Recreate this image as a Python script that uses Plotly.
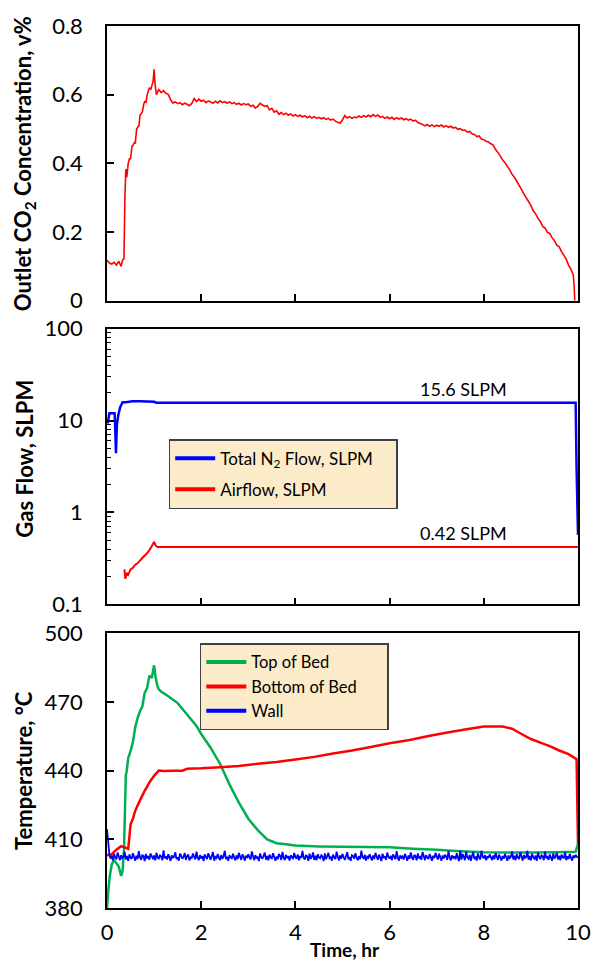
import numpy as np
import plotly.graph_objects as go

# ---- Outlet CO2 concentration (v%) ----
# start-up transient, irregular logging times
co2_time_start = [0.00, 0.05, 0.10, 0.15, 0.20, 0.25, 0.30, 0.33, 0.36, 0.38,
                  0.40, 0.42, 0.45, 0.48, 0.50, 0.53, 0.55, 0.58, 0.60, 0.63,
                  0.65, 0.68, 0.70, 0.73, 0.75, 0.78, 0.80, 0.83, 0.85, 0.88,
                  0.90, 0.93, 0.95, 0.98, 1.00, 1.02, 1.05]
co2_conc_start = [0.118, 0.110, 0.107, 0.112, 0.104, 0.115, 0.100, 0.118, 0.122, 0.300,
                  0.383, 0.360, 0.400, 0.415, 0.412, 0.450, 0.452, 0.460, 0.458, 0.500,
                  0.505, 0.510, 0.540, 0.545, 0.550, 0.572, 0.580, 0.578, 0.598, 0.612,
                  0.620, 0.615, 0.625, 0.640, 0.674, 0.630, 0.600]
# steady logging every 0.05 hr from 1.10 to 9.90 hr
co2_conc_run = [
    0.615, 0.606, 0.612, 0.604, 0.601, 0.585, 0.576, 0.579, 0.574, 0.577,
    0.571, 0.575, 0.572, 0.568, 0.574, 0.589, 0.580, 0.587, 0.581, 0.584,
    0.577, 0.582, 0.579, 0.575, 0.581, 0.576, 0.582, 0.577, 0.580, 0.575,
    0.579, 0.574, 0.577, 0.572, 0.575, 0.570, 0.574, 0.571, 0.573, 0.566,
    0.569, 0.561, 0.566, 0.575, 0.570, 0.566, 0.568, 0.556, 0.560, 0.549,
    0.553, 0.543, 0.548, 0.542, 0.546, 0.540, 0.544, 0.538, 0.542, 0.537,
    0.540, 0.535, 0.539, 0.533, 0.537, 0.532, 0.536, 0.531, 0.534, 0.530,
    0.533, 0.528, 0.531, 0.526, 0.529, 0.523, 0.520, 0.517, 0.527, 0.539,
    0.532, 0.536, 0.531, 0.535, 0.533, 0.538, 0.534, 0.539, 0.535, 0.540,
    0.536, 0.542, 0.537, 0.541, 0.534, 0.537, 0.531, 0.535, 0.530, 0.534,
    0.528, 0.533, 0.529, 0.532, 0.527, 0.530, 0.526, 0.529, 0.523, 0.526,
    0.519, 0.516, 0.513, 0.509, 0.513, 0.508, 0.512, 0.507, 0.511, 0.508,
    0.512, 0.506, 0.510, 0.505, 0.508, 0.503, 0.505, 0.499, 0.501, 0.496,
    0.497, 0.491, 0.493, 0.486, 0.484, 0.478, 0.480, 0.471, 0.469, 0.464,
    0.462, 0.457, 0.453, 0.440, 0.432, 0.421, 0.410, 0.402, 0.391, 0.381,
    0.368, 0.360, 0.348, 0.336, 0.324, 0.311, 0.300, 0.289, 0.277, 0.262,
    0.253, 0.240, 0.231, 0.216, 0.212, 0.199, 0.196, 0.183, 0.175, 0.162,
    0.157, 0.143, 0.132, 0.121, 0.104, 0.092, 0.075]
co2_time_run = list(np.round(1.10 + 0.05 * np.arange(len(co2_conc_run)), 2))
# analyser shut-off
co2_time_end = [9.92, 9.93]
co2_conc_end = [0.040, 0.000]

co2_time = co2_time_start + co2_time_run + co2_time_end
co2_conc = co2_conc_start + co2_conc_run + co2_conc_end

# ---- Gas flows (SLPM) ----
n2_time = [0.00, 0.02, 0.05, 0.08, 0.12, 0.16, 0.17, 0.19, 0.21, 0.24,
           0.28, 0.33, 0.40, 0.54, 0.70, 1.00, 1.05, 2.00, 3.00, 4.00,
           5.00, 6.00, 7.00, 8.00, 9.00, 9.95, 9.97, 10.00]
n2_flow = [9.6, 9.6, 12.0, 12.0, 12.0, 12.0, 9.8, 4.4, 9.0, 11.5,
           14.0, 15.8, 15.8, 16.2, 16.2, 16.0, 15.6, 15.6, 15.6, 15.6,
           15.6, 15.6, 15.6, 15.6, 15.6, 15.6, 3.0, 0.57]

air_time = [0.37, 0.39, 0.42, 0.45, 0.50, 0.55, 0.60, 0.65, 0.70, 0.75,
            0.80, 0.85, 0.90, 0.95, 1.00, 1.03, 1.07, 2.00, 3.00, 4.00,
            5.00, 6.00, 7.00, 8.00, 9.00, 10.00]
air_flow = [0.24, 0.19, 0.22, 0.21, 0.24, 0.25, 0.27, 0.28, 0.30, 0.32,
            0.34, 0.36, 0.39, 0.43, 0.48, 0.44, 0.42, 0.42, 0.42, 0.42,
            0.42, 0.42, 0.42, 0.42, 0.42, 0.42]

# ---- Temperatures (deg C) ----
top_time = [0.00, 0.03, 0.06, 0.10, 0.15, 0.20, 0.25, 0.30, 0.33, 0.36,
            0.40, 0.42, 0.45, 0.50, 0.55, 0.60, 0.65, 0.70, 0.75, 0.80,
            0.85, 0.90, 0.95, 1.00, 1.03, 1.07, 1.10, 1.15, 1.30, 1.50,
            1.70, 1.90, 2.00, 2.20, 2.40, 2.60, 2.80, 3.00, 3.20, 3.40,
            3.60, 3.80, 4.00, 4.50, 5.00, 5.50, 6.00, 6.50, 7.00, 7.50,
            8.00, 8.50, 9.00, 9.50, 9.95, 10.00]
top_temp = [380.0, 388.0, 394.0, 399.0, 401.0, 399.5, 398.0, 394.0, 396.0, 405.0,
            438.0, 440.0, 445.5, 448.5, 452.5, 459.0, 463.0, 466.0, 468.0, 474.0,
            476.0, 481.5, 480.5, 486.0, 481.0, 477.0, 475.5, 474.5, 472.5, 469.5,
            464.5, 459.5, 456.0, 450.0, 443.0, 434.0, 426.0, 419.0, 414.0, 410.0,
            408.3, 407.8, 407.3, 406.9, 406.7, 406.6, 406.5, 405.9, 405.4, 404.8,
            404.3, 404.2, 404.2, 404.4, 404.6, 408.0]

bot_time = [0.00, 0.10, 0.20, 0.30, 0.38, 0.45, 0.48, 0.50, 0.55, 0.60,
            0.70, 0.80, 0.90, 1.00, 1.10, 1.20, 1.40, 1.60, 1.70, 2.00,
            2.40, 2.80, 3.20, 3.60, 4.00, 4.40, 4.80, 5.20, 5.60, 6.00,
            6.40, 6.80, 7.20, 7.60, 8.00, 8.40, 8.60, 8.80, 9.00, 9.20,
            9.40, 9.60, 9.80, 9.97, 10.00]
bot_temp = [403.0, 403.5, 405.5, 407.0, 406.5, 405.8, 412.0, 416.5, 419.0, 422.5,
            427.0, 431.2, 434.8, 437.7, 440.0, 439.8, 440.0, 440.0, 440.8, 441.0,
            441.5, 442.0, 443.0, 443.8, 444.9, 446.0, 447.5, 448.8, 450.3, 452.0,
            453.3, 455.0, 456.5, 458.0, 459.3, 459.3, 458.3, 456.0, 453.8, 452.2,
            450.7, 448.8, 447.2, 445.0, 408.0]

# wall thermocouple, logged every 0.025 hr
wall_temp = [
    414.5, 409.0, 403.2, 401.6, 402.9, 400.8, 403.7, 402.1, 401.3, 404.2, 402.6, 400.9, 403.0, 401.8, 402.4, 404.5, 401.2, 402.7, 400.6, 403.4,
    402.0, 401.5, 403.9, 402.3, 400.7, 402.8, 401.4, 404.8, 402.2, 401.0, 403.3, 402.5, 400.5, 403.6, 401.9, 402.4, 401.1, 403.8, 402.7, 401.3,
    402.9, 400.8, 404.1, 402.0, 401.6, 403.2, 402.4, 400.9, 405.2, 401.7, 402.6, 401.2, 403.5, 402.1, 400.6, 403.0, 401.8, 402.5, 404.3, 401.4,
    402.2, 400.7, 403.7, 402.9, 401.5, 402.3, 404.0, 401.0, 402.6, 403.3, 400.8, 402.1, 401.9, 403.8, 402.4, 401.2, 404.6, 402.0, 400.9, 403.1,
    401.6, 402.7, 400.5, 403.4, 402.2, 401.4, 403.9, 402.5, 401.1, 402.8, 404.4, 400.7, 402.3, 401.8, 403.6, 402.0, 400.9, 403.2, 401.5, 402.6,
    405.0, 401.3, 402.4, 400.6, 403.0, 402.2, 401.7, 403.7, 402.1, 400.8, 402.9, 401.4, 404.1, 402.5, 401.0, 403.4, 402.3, 400.7, 402.8, 401.9,
    403.5, 402.0, 401.2, 404.7, 402.6, 400.9, 403.1, 401.6, 402.4, 400.5, 403.8, 402.2, 401.5, 402.9, 404.2, 401.1, 402.7, 400.8, 403.3, 402.0,
    401.7, 403.9, 402.3, 400.6, 402.5, 401.3, 403.6, 402.8, 401.0, 404.5, 402.1, 400.9, 403.2, 401.8, 402.6, 400.7, 403.0, 402.4, 401.4, 404.0,
    402.2, 401.6, 403.4, 400.8, 402.7, 401.9, 404.9, 402.0, 401.2, 403.1, 402.5, 400.6, 403.7, 401.5, 402.3, 404.3, 401.0, 402.8, 400.9, 403.5,
    402.1, 401.7, 403.0, 402.4, 400.5, 403.8, 401.3, 402.6, 404.1, 401.8, 402.2, 400.7, 403.3, 402.0, 401.4, 404.6, 402.5, 400.8, 402.9, 401.6,
    403.6, 402.1, 401.0, 402.7, 404.4, 401.2, 402.3, 400.6, 403.1, 402.8, 401.5, 403.9, 402.0, 400.9, 402.6, 401.3, 405.1, 402.2, 401.7, 403.2,
    400.7, 402.4, 401.9, 403.5, 402.1, 400.8, 402.9, 401.4, 404.0, 402.5, 401.1, 403.3, 402.0, 400.5, 403.7, 401.8, 402.6, 401.0, 404.2, 402.3,
    401.6, 402.8, 400.9, 403.4, 402.2, 401.3, 404.8, 402.0, 400.7, 403.0, 401.9, 402.5, 401.2, 403.6, 402.4, 400.6, 402.9, 401.5, 404.3, 402.1,
    401.0, 403.2, 402.6, 400.8, 403.8, 401.7, 402.3, 401.1, 404.5, 402.7, 400.9, 403.1, 402.0, 401.4, 403.5, 402.2, 400.6, 402.8, 401.8, 404.1,
    402.4, 401.2, 403.7, 402.1, 400.7, 402.9, 401.6, 403.3, 402.5, 401.0, 404.9, 402.2, 400.8, 403.0, 401.9, 402.6, 401.3, 403.9, 402.0, 400.5,
    405.2, 401.1, 403.6, 402.3, 400.9, 404.7, 402.0, 401.5, 403.2, 400.6, 402.8, 404.4, 401.4, 402.5, 400.7, 403.8, 402.1, 401.2, 405.0, 402.4,
    401.7, 403.1, 400.8, 402.6, 401.9, 403.4, 402.2, 400.9, 402.9, 401.3, 404.0, 402.5, 401.0, 403.3, 402.1, 400.7, 402.7, 401.6, 403.6, 402.3,
    400.6, 403.0, 401.8, 402.4, 404.6, 401.2, 402.8, 400.9, 403.5, 402.0, 401.4, 404.3, 402.6, 400.7, 403.1, 401.9, 402.2, 405.0, 401.1, 402.7,
    400.8, 403.7, 402.1, 401.5, 402.9, 400.6, 404.2, 402.4, 401.3, 403.0, 402.6, 400.9, 404.6, 401.8, 402.3, 401.0, 403.4, 402.0, 400.7, 403.8,
    401.6, 402.5, 404.1, 401.2, 402.8, 400.8, 403.3, 402.2, 401.7, 404.5, 400.9, 402.6, 401.4, 403.6, 402.0, 400.7, 402.9, 401.9, 403.2, 402.4,
    402.1]
wall_time = np.round(np.arange(len(wall_temp)) * 0.025, 3)

x_ticks = [0, 2, 4, 6, 8, 10]
co2_ticks = [0, 0.2, 0.4, 0.6, 0.8]
co2_tick_text = ["0", "0.2", "0.4", "0.6", "0.8"]
flow_ticks = [0.1, 1, 10, 100]
flow_tick_text = ["0.1", "1", "10", "100"]
flow_minor = [m * d for d in (0.1, 1, 10) for m in range(2, 10)]
temp_ticks = [380, 410, 440, 470, 500]

FONT = "Lato"
RED, BLUE, GREEN = "#FF0000", "#0000FF", "#00B050"
LEGEND_BG = "#FCEBC9"
PAD = "\u00a0" * 4


def line(color, width):
    # keep every logged sample (no path simplification) so sensor noise shows
    return dict(color=color, width=width, simplify=False)


fig = go.Figure()

# panel 1: CO2
fig.add_trace(go.Scatter(x=co2_time, y=co2_conc, mode="lines",
                         line=line(RED, 1.6),
                         showlegend=False, xaxis="x", yaxis="y"))

# panel 2: flows
fig.add_trace(go.Scatter(x=n2_time, y=n2_flow, mode="lines",
                         line=line(BLUE, 2.5),
                         showlegend=False, xaxis="x2", yaxis="y2"))
fig.add_trace(go.Scatter(x=air_time, y=air_flow, mode="lines",
                         line=line(RED, 2),
                         showlegend=False, xaxis="x2", yaxis="y2"))
for name, color, grp in [("Total N<sub>2</sub> Flow, SLPM" + PAD, BLUE, "n2"),
                         ("Airflow, SLPM", RED, "air")]:
    fig.add_trace(go.Scatter(x=[None], y=[None], mode="lines", name=name,
                             line=dict(color=color, width=4), legendgroup=grp,
                             legend="legend", xaxis="x2", yaxis="y2"))

# panel 3: temperatures
fig.add_trace(go.Scatter(x=top_time, y=top_temp, mode="lines",
                         line=line(GREEN, 2.5),
                         showlegend=False, xaxis="x3", yaxis="y3"))
fig.add_trace(go.Scatter(x=bot_time, y=bot_temp, mode="lines",
                         line=line(RED, 2.5),
                         showlegend=False, xaxis="x3", yaxis="y3"))
fig.add_trace(go.Scatter(x=wall_time, y=wall_temp, mode="lines",
                         line=line(BLUE, 1.8),
                         showlegend=False, xaxis="x3", yaxis="y3"))
for name, color in [("Top of Bed", GREEN),
                    ("Bottom of Bed" + PAD + "\u00a0\u00a0", RED),
                    ("Wall", BLUE)]:
    fig.add_trace(go.Scatter(x=[None], y=[None], mode="lines", name=name,
                             line=dict(color=color, width=4),
                             legend="legend2", xaxis="x3", yaxis="y3"))

frame = dict(showline=True, mirror=True, linecolor="black", linewidth=1.5,
             ticks="inside", tickcolor="black", tickwidth=1.5, ticklen=7,
             showgrid=False, zeroline=False,
             tickfont=dict(family=FONT, size=22, color="black"))

xcommon = dict(range=[0, 10], tickvals=x_ticks, **frame)

fig.update_layout(
    width=603, height=965,
    margin=dict(l=107, r=15, t=22, b=57),
    paper_bgcolor="white", plot_bgcolor="white",
    font=dict(family=FONT, color="black"),
    xaxis=dict(domain=[0, 1], anchor="y", showticklabels=False, **xcommon),
    xaxis2=dict(domain=[0, 1], anchor="y2", showticklabels=False, **xcommon),
    xaxis3=dict(domain=[0, 1], anchor="y3", showticklabels=True,
                ticklabelstandoff=4, **xcommon),
    yaxis=dict(domain=[0.6885, 1.0], anchor="x", range=[0, 0.8],
               tickvals=co2_ticks, ticktext=co2_tick_text,
               ticklabelstandoff=18, **frame),
    yaxis2=dict(domain=[0.3442, 0.6569], anchor="x2", type="log",
                range=[-1, 2], tickvals=flow_ticks, ticktext=flow_tick_text,
                ticklabelstandoff=18,
                minor=dict(ticks="inside", ticklen=4, tickwidth=1.2,
                           tickcolor="black", tickvals=flow_minor),
                **frame),
    yaxis3=dict(domain=[0, 0.3115], anchor="x3", range=[380, 500],
                tickvals=temp_ticks, ticklabelstandoff=18, **frame),
    legend=dict(x=0.131, y=0.5316, xanchor="left", yanchor="top",
                bgcolor=LEGEND_BG, bordercolor="#404040", borderwidth=1.5,
                font=dict(family=FONT, size=17, color="black"),
                tracegroupgap=6, itemwidth=40),
    legend2=dict(x=0.197, y=0.3002, xanchor="left", yanchor="top",
                 bgcolor=LEGEND_BG, bordercolor="#404040", borderwidth=1.5,
                 font=dict(family=FONT, size=16.5, color="black"),
                 itemwidth=40),
)

title_font = dict(family=FONT, size=22, color="black")
annotations = [
    dict(text="<b>Outlet CO<sub>2</sub> Concentration, v%</b>", x=-0.177,
         y=0.844, textangle=-90),
    dict(text="<b>Gas Flow, SLPM</b>", x=-0.177, y=0.509, textangle=-90),
    dict(text="<b>Temperature, °C</b>", x=-0.177, y=0.156, textangle=-90),
]
for a in annotations:
    fig.add_annotation(xref="paper", yref="paper", showarrow=False,
                       xanchor="center", yanchor="middle", font=title_font, **a)
fig.add_annotation(text="<b>Time, hr</b>", xref="paper", yref="paper",
                   x=0.505, y=-0.0615, showarrow=False, xanchor="center",
                   yanchor="bottom", borderpad=0,
                   font=dict(family=FONT, size=19, color="black"))

for label, ypos in [("15.6 SLPM", 0.588), ("0.42 SLPM", 0.4255)]:
    fig.add_annotation(text=label, xref="paper", yref="paper", x=0.757, y=ypos,
                       showarrow=False, xanchor="center", yanchor="middle",
                       font=dict(family=FONT, size=18, color="black"))

fig.write_html("out.html")
